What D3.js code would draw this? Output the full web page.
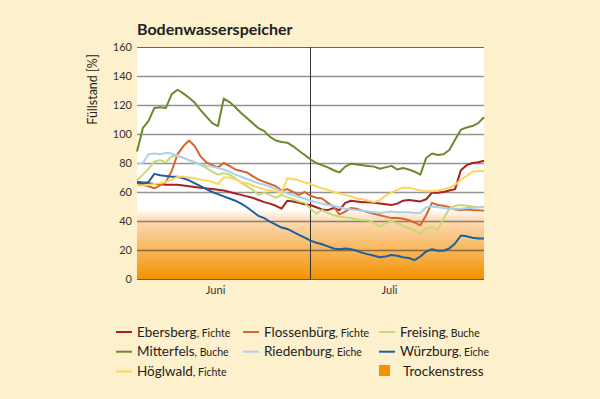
<!DOCTYPE html>
<html>
<head>
<meta charset="utf-8">
<script src="https://cdn.jsdelivr.net/npm/d3@7"></script>
<style>
  body { margin: 0; background: #fdf0cd; }
  svg { display: block; font-family: Lato, sans-serif; }
</style>
</head>
<body>
<svg></svg>
<script>
// days: 1 June .. 31 July
const dates = d3.utcDay.range(new Date(Date.UTC(2015, 5, 1)), new Date(Date.UTC(2015, 7, 1)));
const monthNames = ['Juni', 'Juli'];
const monthLabelDates = [new Date(Date.UTC(2015, 5, 14, 12)), new Date(Date.UTC(2015, 6, 14, 14))];
const monthBreak = new Date(Date.UTC(2015, 6, 1));
const yTicks = [0, 20, 40, 60, 80, 100, 120, 140, 160];

const ebersberg = [
  67, 66.5, 66, 65.5, 65.5, 65, 65, 65, 64.5, 64,
  63.5, 63, 62.5, 62, 61.5, 61, 60, 59, 58, 57,
  56, 54.5, 53, 52, 50.5, 48.5, 54, 53.5, 52.5, 51.5,
  51, 49.5, 48, 47.5, 49, 47.5, 52.5, 54, 53.5, 53,
  53, 52.5, 52, 51.5, 51, 52, 54, 54.5, 54, 53.5,
  55, 59.5, 59.5, 60, 61, 62, 75, 78.5, 80, 80.5, 81.5];
const flossenbuerg = [
  66, 65, 64, 62.5, 64.5, 67, 74.5, 86, 91.5, 95.5,
  91.5, 84.5, 80.5, 78.5, 77, 80, 78, 75.5, 74.5, 73.5,
  71, 68.5, 67, 65.5, 64, 61, 62, 60, 58, 60,
  57.5, 56, 55.5, 52.5, 50, 44.5, 46.5, 49, 48.5, 47,
  46, 45, 44, 43, 42, 42, 41.5, 40.5, 39, 37,
  44, 52.5, 51, 50.5, 49.5, 48, 47.5, 48, 47.5, 47.5, 47];
const freising = [
  68, 72, 76, 81, 82, 80.5, 84.5, 85, 83.5, 82,
  80.5, 78.5, 76.5, 74, 72, 73, 72, 69.5, 66.5, 64,
  61.5, 58, 59.5, 58, 56, 58, 56.5, 55, 53.5, 52.5,
  48.5, 45, 47.5, 45.5, 44, 43, 42.5, 42, 41, 40.5,
  40.5, 38.5, 36, 38.5, 39.5, 38.5, 36.5, 35, 33.5, 31.5,
  35, 35.5, 34, 41.5, 48.5, 50.5, 51, 50.5, 50, 49.5, 50];
const mitterfels = [
  88, 104, 109, 118, 118.5, 118, 127.5, 130.5, 128, 125,
  121.5, 116.5, 112, 107.5, 105.5, 124.5, 122, 118.5, 114.5, 111,
  107.5, 104, 102, 98, 95.5, 94.5, 94, 91.5, 88.5, 85.5,
  82.5, 80, 78.5, 77, 75, 73.5, 77.5, 79.5, 79, 78.5,
  78, 77.5, 76, 77, 78, 75.5, 76.5, 75.5, 74, 72,
  83.5, 86.5, 85.5, 86, 89, 96, 103, 104.5, 105.5, 107.5, 111.5];
const riedenburg = [
  79.5, 80, 86, 86.5, 86, 87, 86.5, 85, 83.5, 82,
  80.5, 79, 78, 77.5, 76.5, 75.5, 74, 72, 70.5, 69,
  67.5, 66, 65, 63.5, 62, 60.5, 59, 58, 56.5, 55.5,
  54, 53, 52, 51, 50.5, 49.5, 48.5, 48, 47.5, 47,
  46.5, 46, 45.5, 46, 46.5, 46, 46, 46, 45.5, 45.5,
  49.5, 50, 49.5, 49, 48.5, 48.5, 48.5, 49, 49, 49.5, 49.5];
const wuerzburg = [
  66.5, 66, 67, 72.5, 71.5, 71, 70.5, 70.5, 69.5, 68,
  66, 64, 62, 60, 58.5, 57, 55.5, 54, 52, 49.5,
  46.5, 43.5, 42, 39.5, 37.5, 35.5, 34.5, 32.5, 30.5, 28.5,
  26.5, 25, 24, 22.5, 21, 20.5, 21, 20.5, 19.5, 18,
  17, 16, 15, 15.5, 16.5, 16, 15, 14.5, 13, 15.5,
  19, 20.5, 19.5, 19.5, 21, 24.5, 30, 29.5, 28.5, 28, 28];
const hoeglwald = [
  64.5, 64.5, 65, 65.5, 66, 67, 68.5, 70.5, 70.5, 70,
  69.5, 68.5, 68, 67, 65.5, 70, 70, 68.5, 67, 66,
  64.5, 63, 62, 61, 60.5, 59.5, 69.5, 69, 68, 66.5,
  65.5, 64, 62.5, 61.5, 60, 59, 58, 57, 55.5, 55,
  54, 53, 54.5, 57.5, 59.5, 61.5, 63, 63, 62, 61,
  60.5, 60.5, 61, 62, 63, 65, 68.5, 71, 74, 74.5, 74.5];

const siteNames = ['Ebersberg', 'Flossenbürg', 'Freising', 'Mitterfels', 'Riedenburg', 'Würzburg', 'Höglwald'];
const siteTrees = ['Fichte', 'Fichte', 'Buche', 'Buche', 'Eiche', 'Eiche', 'Fichte'];
const siteValues = [ebersberg, flossenbuerg, freising, mitterfels, riedenburg, wuerzburg, hoeglwald];
const siteColors = ['#a8231d', '#d8652c', '#c6da74', '#6a8a2b', '#a9d1f0', '#1c5ea2', '#fdd55a'];

const width = 600;
const height = 399;
const plotLeft = 137;
const plotRight = 484;
const plotTop = 47;
const plotBottom = 279;

window.onload = () => {
  const svg = d3.select('svg')
      .attr('width', width)
      .attr('height', height);

  svg.append('rect')
      .attr('width', width)
      .attr('height', height)
      .attr('fill', '#fdf0cd');

  const x = d3.scaleUtc()
      .domain(d3.extent(dates))
      .range([plotLeft, plotRight]);

  const y = d3.scaleLinear()
      .domain([0, 160])
      .range([plotBottom, plotTop]);

  // plot background + drought gradient
  svg.append('rect')
      .attr('x', plotLeft)
      .attr('y', plotTop)
      .attr('width', plotRight - plotLeft)
      .attr('height', plotBottom - plotTop)
      .attr('fill', '#fff');

  const grad = svg.append('defs').append('linearGradient')
      .attr('id', 'stress')
      .attr('x1', 0).attr('y1', 0)
      .attr('x2', 0).attr('y2', 1);
  grad.append('stop').attr('offset', '0%').attr('stop-color', '#ffffff');
  grad.append('stop').attr('offset', '16%').attr('stop-color', '#fcdab5');
  grad.append('stop').attr('offset', '100%').attr('stop-color', '#f39200');

  svg.append('rect')
      .attr('x', plotLeft)
      .attr('y', y(48))
      .attr('width', plotRight - plotLeft)
      .attr('height', y(0) - y(48))
      .attr('fill', 'url(#stress)');

  // y axis with gridlines
  const yAxis = svg.append('g')
      .attr('transform', `translate(${plotLeft},0)`)
      .call(d3.axisLeft(y).tickValues(yTicks).tickSize(-(plotRight - plotLeft)).tickPadding(5));
  yAxis.select('.domain').remove();
  yAxis.selectAll('line')
      .attr('stroke', 'rgba(0,0,0,0.42)')
      .attr('stroke-width', 1.5);
  yAxis.selectAll('.tick')
      .filter(d => d === 0 || d === 160)
      .select('line')
      .attr('stroke', 'rgba(0,0,0,0.6)')
      .attr('stroke-width', 1.2);
  yAxis.selectAll('text')
      .attr('font-family', 'Lato, sans-serif')
      .attr('font-size', 11)
      .attr('fill', '#333');

  // month labels
  const xAxis = svg.append('g')
      .attr('transform', `translate(0,${plotBottom})`)
      .call(d3.axisBottom(x)
        .tickValues(monthLabelDates)
        .tickFormat((d, i) => monthNames[i])
        .tickSize(0)
        .tickPadding(7));
  xAxis.select('.domain').remove();
  xAxis.selectAll('text')
      .attr('font-family', 'Lato, sans-serif')
      .attr('font-size', 11)
      .attr('fill', '#333');

  svg.append('line')
      .attr('x1', x(monthBreak))
      .attr('x2', x(monthBreak))
      .attr('y1', plotTop)
      .attr('y2', plotBottom)
      .attr('stroke', '#333')
      .attr('stroke-width', 1);

  // series
  const line = d3.line()
      .x((d, i) => x(dates[i]))
      .y(d => y(d));

  svg.append('g')
    .selectAll('path')
    .data(siteValues)
    .join('path')
      .attr('d', line)
      .attr('fill', 'none')
      .attr('stroke', (d, i) => siteColors[i])
      .attr('stroke-width', 2)
      .attr('stroke-linejoin', 'round');

  // titles
  svg.append('text')
      .attr('x', plotLeft)
      .attr('y', 35)
      .attr('font-size', 16)
      .attr('font-weight', 700)
      .attr('fill', '#222')
      .text('Bodenwasserspeicher');

  svg.append('text')
      .attr('transform', `translate(97,${(plotTop + 132) / 2}) rotate(-90)`)
      .attr('text-anchor', 'middle')
      .attr('font-size', 12.5)
      .attr('fill', '#222')
      .text('Füllstand [%]');

  // legend
  const colX = [116, 243, 379];
  const rowY = [336.5, 356.2, 376];
  const legend = svg.append('g');

  siteNames.forEach((name, i) => {
    const cx = colX[i % 3];
    const cy = rowY[Math.floor(i / 3)];
    legend.append('line')
        .attr('x1', cx)
        .attr('x2', cx + 16)
        .attr('y1', cy - 4.5)
        .attr('y2', cy - 4.5)
        .attr('stroke', siteColors[i])
        .attr('stroke-width', 2);
    const t = legend.append('text')
        .attr('x', cx + 21)
        .attr('y', cy)
        .attr('font-size', 13.5)
        .attr('fill', '#222');
    t.append('tspan').text(name);
    t.append('tspan').attr('font-size', 10.5).text(', ' + siteTrees[i]);
  });

  legend.append('rect')
      .attr('x', 379)
      .attr('y', 365)
      .attr('width', 11)
      .attr('height', 11)
      .attr('fill', '#f39200');
  legend.append('text')
      .attr('x', 403)
      .attr('y', 376)
      .attr('font-size', 13.5)
      .attr('fill', '#222')
      .text('Trockenstress');
};
</script>
</body>
</html>
